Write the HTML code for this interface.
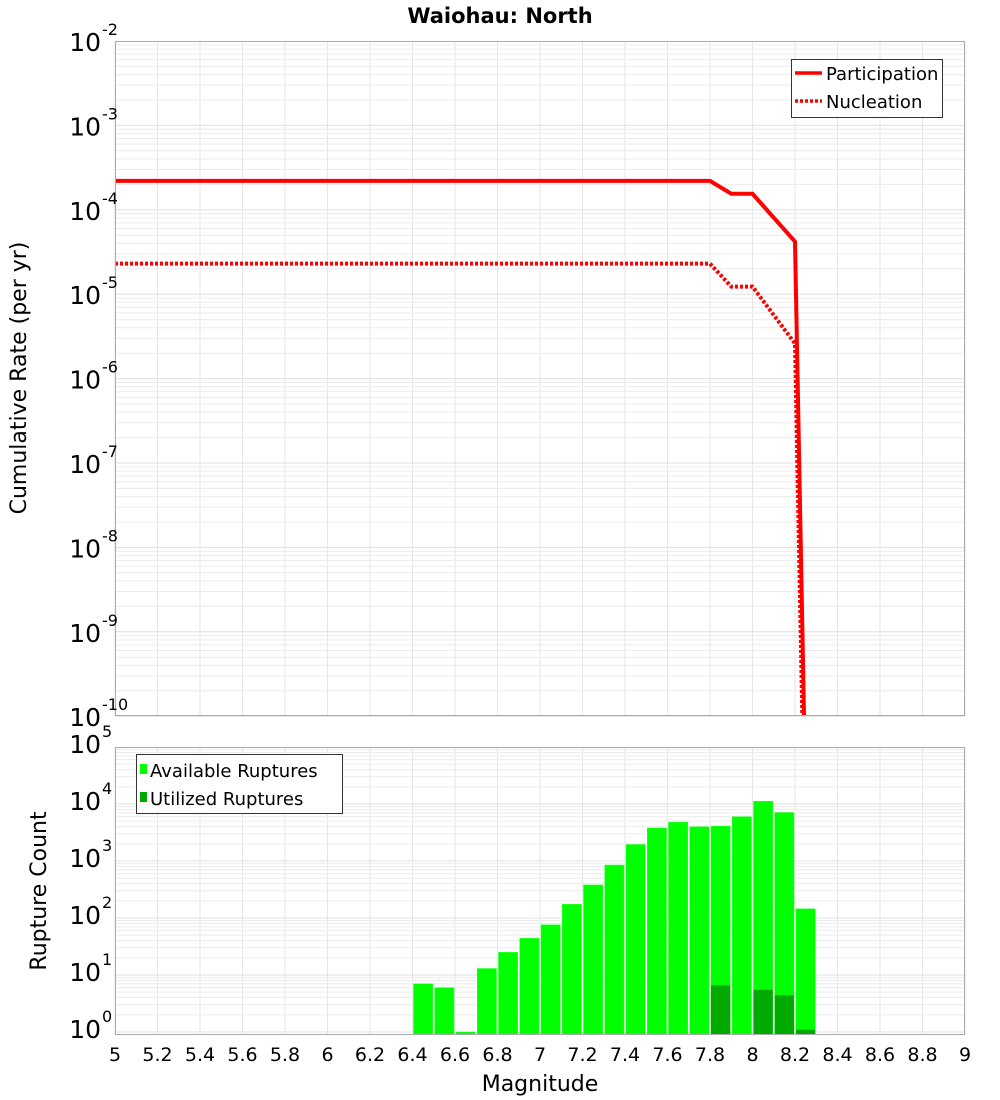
<!DOCTYPE html>
<html><head><meta charset="utf-8"><style>
body{margin:0;background:#fff;}
svg{display:block;font-family:"DejaVu Sans","Liberation Sans",sans-serif;}
</style></head><body>
<svg id="chart" width="1000" height="1100" viewBox="0 0 1000 1100" xmlns="http://www.w3.org/2000/svg">
<defs>
<clipPath id="clipTop"><rect x="115" y="41" width="850" height="675"/></clipPath>
<clipPath id="clipBot"><rect x="115" y="747" width="850" height="288"/></clipPath>
</defs>
<text x="500" y="23" text-anchor="middle" font-size="21" font-weight="bold">Waiohau: North</text>
<g id="topGrid"></g><g id="botGrid"></g>
<g id="topSeries" clip-path="url(#clipTop)"></g>
<g id="botSeries" clip-path="url(#clipBot)"></g>
<rect x="115.5" y="41.5" width="849" height="674" fill="none" stroke="#aaa"/>
<rect x="115.5" y="747.5" width="849" height="287" fill="none" stroke="#aaa"/>
<g id="labels"></g>
<text transform="translate(26,378) rotate(-90)" text-anchor="middle" font-size="22">Cumulative Rate (per yr)</text>
<text transform="translate(46,891) rotate(-90)" text-anchor="middle" font-size="22">Rupture Count</text>
<text x="540" y="1091" text-anchor="middle" font-size="22">Magnitude</text>
<g>
<rect x="791.5" y="59.5" width="151" height="58" fill="#fff" stroke="#333"/>
<line x1="795" y1="73" x2="822" y2="73" stroke="#f00" stroke-width="3.5"/>
<text x="826" y="80" font-size="18">Participation</text>
<line x1="795" y1="101" x2="822" y2="101" stroke="#f00" stroke-width="3.5" stroke-dasharray="3,2"/>
<text x="826" y="108" font-size="18">Nucleation</text>
</g>
<g>
<rect x="136.5" y="754.5" width="206" height="59" fill="#fff" stroke="#333"/>
<rect x="140" y="764" width="7" height="10" fill="#00ff00"/>
<text x="150" y="777" font-size="18">Available Ruptures</text>
<rect x="140" y="792" width="7" height="10" fill="#00aa00"/>
<text x="150" y="805" font-size="18">Utilized Ruptures</text>
</g>
</svg>
<script>
const partMags=[5,7.8,7.9,8.0,8.2,8.25];
const partRates=[2.2e-4,2.2e-4,1.55e-4,1.55e-4,4.2e-5,1e-11];
const nuclMags=[5,7.8,7.9,8.0,8.2,8.25];
const nuclRates=[2.3e-5,2.3e-5,1.23e-5,1.23e-5,2.6e-6,1e-12];
const binMags=[6.45,6.55,6.65,6.75,6.85,6.95,7.05,7.15,7.25,7.35,7.45,7.55,7.65,7.75,7.85,7.95,8.05,8.15,8.25];
const availCounts=[7,6,1,13,25,44,76,174,380,850,1950,3800,4800,4000,4100,6000,11200,7100,145];
const utilCounts=[0,0,0,0,0,0,0,0,0,0,0,0,0,0,6.6,0,5.5,4.4,1.1];
const xTicks=[5,5.2,5.4,5.6,5.8,6,6.2,6.4,6.6,6.8,7,7.2,7.4,7.6,7.8,8,8.2,8.4,8.6,8.8,9];
const topExps=[-2,-3,-4,-5,-6,-7,-8,-9,-10];
const botExps=[5,4,3,2,1,0];
const NS="http://www.w3.org/2000/svg";
const X=m=>115+(m-5)*212.5;
const YT=v=>41+(-2-Math.log10(v))*84.4;
const YB=v=>747+(5-Math.log10(v))*57;
function mk(tag,attrs,parent){const e=document.createElementNS(NS,tag);for(const k in attrs)e.setAttribute(k,attrs[k]);parent.appendChild(e);return e;}
const tg=document.getElementById('topGrid'),bg=document.getElementById('botGrid'),lb=document.getElementById('labels');
xTicks.forEach(t=>{
 const l1=mk('line',{x1:X(t),x2:X(t),y1:41,y2:716,stroke:'#e6e6e6'},tg);
 
 
 const l2=mk('line',{x1:X(t),x2:X(t),y1:747,y2:1035,stroke:'#e6e6e6'},bg);
 
 
 const tx=mk('text',{x:X(t),y:1061,'text-anchor':'middle','font-size':'19'},lb);
 tx.textContent=String(t);
 
 
});
for(let e=-10;e<-2;e++){for(let k=1;k<10;k++){const y=YT(k*Math.pow(10,e));
 const l=mk('line',{x1:115,x2:965,y1:y,y2:y,stroke:k==1?'#e0e0e0':'#ececec'},tg);
 
 }}
for(let e=-1;e<5;e++){for(let k=1;k<10;k++){const y=YB(k*Math.pow(10,e));if(y>1035)continue;
 const l=mk('line',{x1:115,x2:965,y1:y,y2:y,stroke:k==1?'#e0e0e0':'#ececec'},bg);
 
 }}
function expLabel(y,e,name){
 const t=mk('text',{x:101,y:y+10,'text-anchor':'end','font-size':'25'},lb);
 t.textContent='10';
 
 
 const s=mk('text',{x:102,y:y-6,'font-size':'16'},lb);
 s.textContent=String(e);
 
 
}
topExps.forEach(e=>expLabel(YT(Math.pow(10,e)),e,'top-y-tick-label'));
botExps.forEach(e=>expLabel(YB(Math.pow(10,e))-4,e,'bottom-y-tick-label'));
const ts=document.getElementById('topSeries');
const p1=mk('polyline',{points:partMags.map((m,i)=>X(m)+','+YT(partRates[i])).join(' '),fill:'none',stroke:'#f00','stroke-width':'4','stroke-linejoin':'miter'},ts);


const p2=mk('polyline',{points:nuclMags.map((m,i)=>X(m)+','+YT(nuclRates[i])).join(' '),fill:'none',stroke:'#f00','stroke-width':'4','stroke-dasharray':'3,2'},ts);


const bs=document.getElementById('botSeries');
binMags.forEach((m,i)=>{
 const x0=X(m-0.05)+1,w=212.5*0.1-2;
 const y=YB(availCounts[i]);
 const r=mk('rect',{x:x0,y:y,width:w,height:1035-y,fill:'#00ff00',stroke:'#33ff33','stroke-width':'0.5'},bs);
 
 
 if(utilCounts[i]>0){const yu=YB(utilCounts[i]);
  const u=mk('rect',{x:x0,y:yu,width:w,height:1035-yu,fill:'#00aa00'},bs);
  
  }
});
</script>
</body></html>
